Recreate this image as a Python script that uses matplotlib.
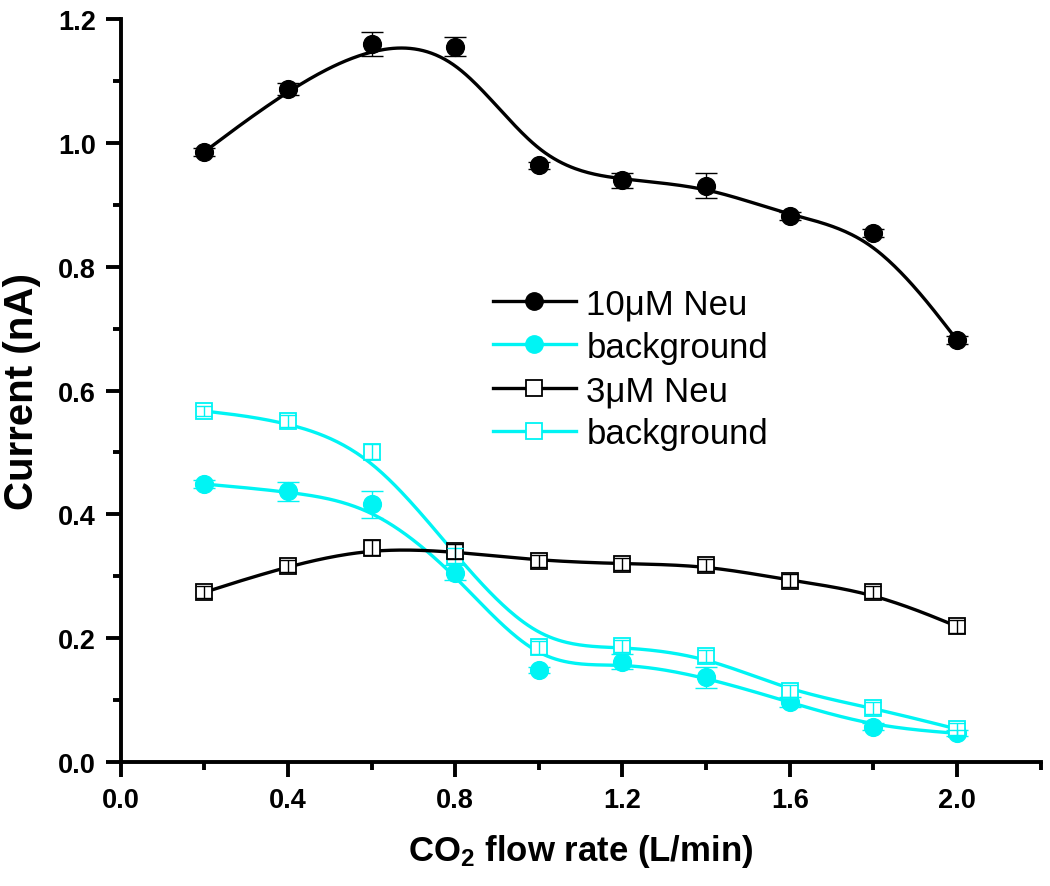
#!/usr/bin/env python3
"""
Current vs CO2 flow rate for Neu samples and their backgrounds.
"""

import numpy as np
import matplotlib
matplotlib.use("Agg")
import matplotlib.pyplot as plt
from matplotlib.lines import Line2D
from matplotlib.ticker import MultipleLocator

# Data
flow = [0.2, 0.4, 0.6, 0.8, 1.0, 1.2, 1.4, 1.6, 1.8, 2.0]

neu10 = [0.986, 1.087, 1.160, 1.156, 0.964, 0.940, 0.931, 0.882, 0.855, 0.682]
neu10_err = [0.006, 0.010, 0.019, 0.015, 0.006, 0.012, 0.020, 0.006, 0.006, 0.006]

bg10 = [0.449, 0.437, 0.416, 0.306, 0.149, 0.162, 0.137, 0.096, 0.057, 0.046]
bg10_err = [0.006, 0.016, 0.022, 0.012, 0.005, 0.012, 0.017, 0.008, 0.005, 0.005]

neu3 = [0.274, 0.317, 0.346, 0.340, 0.325, 0.320, 0.318, 0.293, 0.274, 0.219]
neu3_err = [0.010, 0.010, 0.012, 0.012, 0.010, 0.010, 0.010, 0.010, 0.010, 0.010]

bg3 = [0.567, 0.551, 0.501, 0.333, 0.185, 0.187, 0.171, 0.114, 0.087, 0.053]
bg3_err = [0.008, 0.010, 0.012, 0.012, 0.010, 0.010, 0.010, 0.010, 0.010, 0.010]

CYAN = "#00f4f4"
FONT = ["Liberation Sans", "DejaVu Sans"]

plt.rcParams["font.family"] = FONT
plt.rcParams["mathtext.default"] = "regular"


def bspline(x, y, steps=40):
    """Clamped uniform cubic B-spline using the data points as control points."""
    px = np.concatenate([[x[0]] * 2, x, [x[-1]] * 2])
    py = np.concatenate([[y[0]] * 2, y, [y[-1]] * 2])
    t = np.linspace(0, 1, steps)
    b = np.array([(1 - t) ** 3,
                  3 * t ** 3 - 6 * t ** 2 + 4,
                  -3 * t ** 3 + 3 * t ** 2 + 3 * t + 1,
                  t ** 3]) / 6.0
    xs, ys = [], []
    for i in range(len(px) - 3):
        xs.append(b.T @ px[i:i + 4])
        ys.append(b.T @ py[i:i + 4])
    return np.concatenate(xs), np.concatenate(ys)


fig = plt.figure(figsize=(10.5, 8.87), dpi=100)
ax = fig.add_axes([0.115, 0.140, 0.876, 0.837])

series = [
    (neu10, neu10_err, "black", "o", True),
    (bg10, bg10_err, CYAN, "o", True),
    (neu3, neu3_err, "black", "s", False),
    (bg3, bg3_err, CYAN, "s", False),
]

# smooth connecting lines
for vals, err, col, mk, filled in series:
    sx, sy = bspline(np.array(flow), np.array(vals))
    ax.plot(sx, sy, color=col, lw=2.4, zorder=2, solid_capstyle="round")

# markers + error bars
for vals, err, col, mk, filled in [series[1], series[3], series[0], series[2]]:
    if filled:
        ax.plot(flow, vals, ls="none", marker=mk, ms=12.8, color=col,
                mec=col, zorder=4)
    else:
        ax.plot(flow, vals, ls="none", marker=mk, ms=11, mfc="white",
                mec=col, mew=1.3, zorder=4)
    ax.errorbar(flow, vals, yerr=err, fmt="none", ecolor=col, elinewidth=1.0,
                capsize=8 if filled else 5.5, capthick=1.0, zorder=5)

ax.set_xlim(0, 2.2)
ax.set_ylim(0, 1.2)
ax.xaxis.set_major_locator(MultipleLocator(0.4))
ax.xaxis.set_minor_locator(MultipleLocator(0.2))
ax.yaxis.set_major_locator(MultipleLocator(0.2))
ax.yaxis.set_minor_locator(MultipleLocator(0.1))
ax.xaxis.set_major_formatter(plt.FormatStrFormatter("%.1f"))
ax.yaxis.set_major_formatter(plt.FormatStrFormatter("%.1f"))

for side in ["top", "right"]:
    ax.spines[side].set_visible(False)
for side in ["left", "bottom"]:
    ax.spines[side].set_linewidth(2.8)

ax.tick_params(which="major", direction="out", length=11, width=2.8, pad=7)
ax.tick_params(which="minor", direction="out", length=6, width=2.8)
for lab in ax.get_xticklabels() + ax.get_yticklabels():
    lab.set_fontweight("bold")
    lab.set_fontsize(19.5)

ax.set_xlabel(r"CO$_2$ flow rate (L/min)", fontweight="bold",
              fontsize=25, labelpad=14)
ax.set_ylabel("Current (nA)", fontweight="bold", fontsize=29, labelpad=12)

handles = [
    Line2D([], [], color="black", lw=2.4, marker="o", ms=12.5),
    Line2D([], [], color=CYAN, lw=2.4, marker="o", ms=12.5),
    Line2D([], [], color="black", lw=2.4, marker="s", ms=11, mfc="white", mew=1.3),
    Line2D([], [], color=CYAN, lw=2.4, marker="s", ms=11, mfc="white", mew=1.3),
]
labels = ["10\u03bcM Neu", "background", "3\u03bcM Neu", "background"]
ax.legend(handles, labels, loc="upper left", bbox_to_anchor=(0.378, 0.672),
          frameon=False, numpoints=1, handlelength=2.4, handletextpad=0.3,
          labelspacing=0.30, borderpad=0.2, prop={"size": 25})

plt.savefig("out.png", dpi=100)
plt.close()
